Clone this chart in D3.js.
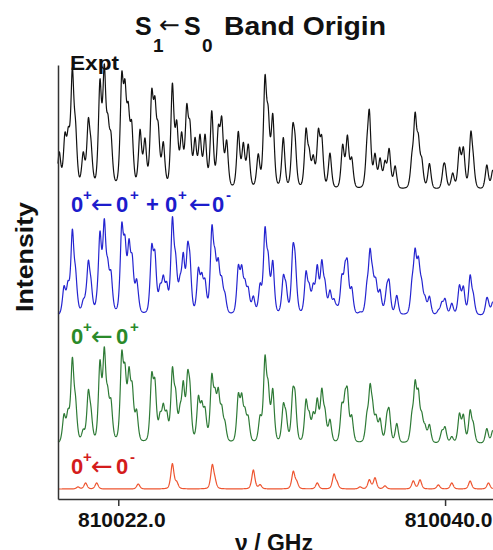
<!DOCTYPE html>
<html>
<head>
<meta charset="utf-8">
<script src="https://cdn.jsdelivr.net/npm/d3@7"></script>
<style>
body { margin: 0; background: #fff; }
text { font-family: "Liberation Sans", Arial, sans-serif; font-weight: bold; }
</style>
</head>
<body>
<svg width="493" height="550"></svg>
<script>
// Line positions (GHz) and heights (arb. units)

// Experiment
var exptNu = [810018.75, 810019.06, 810019.25, 810019.47, 810019.65, 810020.07, 810020.35, 810020.50,
    810020.99, 810021.23, 810021.43, 810021.60, 810022.19, 810022.37, 810022.55, 810022.74,
    810023.20, 810023.47, 810023.84, 810024.02, 810024.20, 810024.48, 810024.98, 810025.22,
    810025.49, 810025.77, 810025.95, 810026.23, 810026.50, 810026.78, 810027.15, 810027.51,
    810027.70, 810027.97, 810028.61, 810028.89, 810029.16, 810029.71, 810030.08, 810030.26,
    810030.51, 810031.09, 810031.61, 810031.74, 810032.34, 810032.52, 810032.74, 810033.02,
    810033.21, 810033.66, 810034.36, 810034.62, 810034.86, 810035.69, 810035.83, 810036.14,
    810036.42, 810036.69, 810036.92, 810037.25, 810038.17, 810038.35, 810038.53, 810038.72,
    810039.14, 810039.91, 810040.00, 810040.42, 810040.79, 810041.01, 810041.42, 810041.56,
    810042.30, 810042.63];
var exptInt = [35, 47, 44, 108, 47, 32, 60, 30,
    100, 110, 50, 42, 100, 80, 62, 55,
    55, 45, 85, 68, 50, 42, 100, 58,
    49, 72, 52, 45, 49, 50, 75, 52,
    62, 45, 55, 42, 42, 32, 102, 60,
    70, 50, 52, 35, 55, 28, 28, 52,
    45, 35, 42, 50, 28, 28, 70, 32,
    28, 24, 38, 22, 24, 66, 40, 24,
    25, 15, 16, 15, 38, 38, 52, 18,
    24, 19];

// 0+ <- 0+ simulation
var ppNu = [810019.01, 810019.23, 810019.47, 810019.65, 810020.07, 810020.35, 810020.50, 810020.99,
    810021.23, 810021.42, 810021.60, 810022.19, 810022.37, 810022.59, 810022.77, 810023.01,
    810023.84, 810024.02, 810024.30, 810024.48, 810024.67, 810024.98, 810025.16, 810025.40,
    810025.58, 810025.82, 810025.95, 810026.41, 810026.60, 810026.78, 810027.15, 810027.33,
    810027.51, 810027.70, 810027.88, 810028.61, 810028.80, 810028.98, 810029.16, 810029.81,
    810030.08, 810030.26, 810030.51, 810031.09, 810031.24, 810031.61, 810031.74,
    810032.34, 810032.52, 810032.74, 810032.96, 810033.21, 810033.39, 810033.66, 810034.31,
    810034.49, 810034.62, 810034.86, 810035.69, 810035.87, 810036.01, 810036.20, 810036.42,
    810036.79, 810036.92, 810037.34, 810038.17, 810038.35, 810038.53, 810038.72, 810038.90,
    810039.14, 810039.82, 810040.00, 810040.37, 810040.79, 810041.01, 810041.38, 810041.56,
    810042.30, 810042.63];
var ppInt = [30, 30, 90, 37, 12, 53, 25, 87,
    97, 42, 40, 92, 68, 70, 53, 33,
    70, 60, 25, 35, 28, 77, 45, 28,
    60, 62, 45, 47, 35, 32, 70, 42,
    50, 32, 18, 50, 45, 28, 25, 27,
    90, 52, 58, 38, 25, 47, 42,
    45, 25, 28, 45, 55, 28, 25, 38,
    37, 48, 28, 25, 55, 28, 25, 25,
    22, 32, 22, 25, 60, 48, 25, 15,
    20, 12, 17, 7, 32, 30, 35, 18,
    17, 15];

// 0+ <- 0- simulation
var pmNu = [810019.78, 810020.20, 810020.81, 810023.10, 810024.98, 810025.22, 810027.18, 810027.33,
    810029.44, 810029.81, 810031.64, 810031.83, 810032.96, 810033.88, 810034.05, 810035.32,
    810035.83, 810036.14, 810036.69, 810038.25, 810038.62, 810039.63, 810040.37, 810041.38,
    810042.39];
var pmInt = [2, 6, 6, 5, 25, 6, 23, 6,
    19, 4, 17, 6, 6, 14, 5, 2,
    9, 11, 3, 8, 9, 4, 6, 8,
    6];

var tickValues = [810022.0, 810040.0];

var svg = d3.select("svg"),
    width = +svg.attr("width"),
    height = +svg.attr("height");

var x = d3.scaleLinear()
    .domain([810018.68, 810042.64])
    .range([58, 493]);

// one y scale per trace, stacked
var yExpt = d3.scaleLinear().domain([0, 100]).range([190, 90]);
var ySum = d3.scaleLinear().domain([0, 100]).range([316, 229]);
var yPP = d3.scaleLinear().domain([0, 100]).range([444, 357]);
var yPM = d3.scaleLinear().domain([0, 100]).range([489, 389]);

// pseudo-voigt line profile on a fine grid
var sigma = 0.095, gamma = 0.085, mix = 0.45;
var grid = d3.range(810018.68, 810042.64, 0.01);

function profile(nu, amp) {
    return grid.map(function(f) {
        var s = 0;
        for (var i = 0; i < nu.length; i++) {
            var d = f - nu[i];
            if (Math.abs(d) > 2) continue;
            var g = Math.exp(-d * d / (2 * sigma * sigma));
            var l = 1 / (1 + (d / gamma) * (d / gamma));
            s += amp[i] * ((1 - mix) * g + mix * l);
        }
        return s;
    });
}

var expt = profile(exptNu, exptInt);
var pp = profile(ppNu, ppInt);
var pm = profile(pmNu, pmInt);
var sum = pp.map(function(v, i) { return v + pm[i]; });

function drawTrace(vals, y, color) {
    var line = d3.line()
        .x(function(d, i) { return x(grid[i]); })
        .y(function(d) { return y(d); });
    svg.append("path")
        .attr("d", line(vals))
        .style("fill", "none")
        .style("stroke", color)
        .style("stroke-width", 1.2)
        .style("stroke-linejoin", "round");
}

drawTrace(expt, yExpt, "#111111");
drawTrace(sum, ySum, "#2424d0");
drawTrace(pp, yPP, "#2e7a36");
drawTrace(pm, yPM, "#ee5530");

// axes
var xAxis = svg.append("g")
    .attr("transform", "translate(0,499)")
    .call(d3.axisBottom(x)
        .tickValues(tickValues)
        .tickFormat(d3.format(".1f"))
        .tickSize(7)
        .tickSizeOuter(0)
        .tickPadding(6));
xAxis.selectAll("text")
    .attr("dx", 3)
    .style("font-size", "21px")
    .style("font-family", "Liberation Sans, Arial, sans-serif")
    .style("font-weight", "bold")
    .style("fill", "#111");
xAxis.selectAll("line, path").style("stroke", "#333").style("stroke-width", 1.5);

var yAxis = d3.scaleLinear().domain([0, 1]).range([499, 65]);
svg.append("g")
    .attr("transform", "translate(58,0)")
    .call(d3.axisLeft(yAxis).tickValues([]).tickSizeOuter(0))
    .selectAll("path").style("stroke", "#333").style("stroke-width", 1.5);

// axis titles
svg.append("text")
    .attr("x", 235).attr("y", 551)
    .style("font-size", "23px").style("fill", "#111")
    .text("ν / GHz");

svg.append("text")
    .attr("transform", "translate(33,312) rotate(-90)")
    .attr("textLength", 110).attr("lengthAdjust", "spacingAndGlyphs")
    .style("font-size", "23px").style("fill", "#111")
    .text("Intensity");

// title
var title = svg.append("g").style("fill", "#111");
title.append("text").attr("x", 135).attr("y", 35).style("font-size", "25px").text("S");
title.append("text").attr("x", 153).attr("y", 52).style("font-size", "19px").text("1");
title.append("text").attr("x", 159).attr("y", 33)
    .attr("textLength", 21).attr("lengthAdjust", "spacingAndGlyphs")
    .style("font-family", "DejaVu Sans").style("font-weight", "normal").style("font-size", "24px")
    .text("←");
title.append("text").attr("x", 184).attr("y", 35).style("font-size", "25px").text("S");
title.append("text").attr("x", 202).attr("y", 52).style("font-size", "19px").text("0");
title.append("text").attr("x", 224).attr("y", 35)
    .attr("textLength", 162).attr("lengthAdjust", "spacingAndGlyphs")
    .style("font-size", "25px").text("Band Origin");

svg.append("text")
    .attr("x", 70).attr("y", 70)
    .attr("textLength", 49).attr("lengthAdjust", "spacingAndGlyphs")
    .style("font-size", "21px").style("fill", "#111")
    .text("Expt");

// transition labels, base = baseline of the big digits
function arrow(g, x0, base) {
    g.append("text").attr("x", x0).attr("y", base + 1)
        .attr("textLength", 22).attr("lengthAdjust", "spacingAndGlyphs")
        .style("font-family", "DejaVu Sans").style("font-weight", "normal").style("font-size", "26px")
        .text("←");
}
function digit(g, x0, base, t) {
    g.append("text").attr("x", x0).attr("y", base).style("font-size", "22px").text(t);
}
function sup(g, x0, base, t) {
    g.append("text").attr("x", x0).attr("y", base - 12).style("font-size", "15px").text(t);
}

var lblSum = svg.append("g").style("fill", "#1c1ccc");
digit(lblSum, 71, 212, "0"); sup(lblSum, 83, 212, "+"); arrow(lblSum, 91, 212);
digit(lblSum, 116, 212, "0"); sup(lblSum, 130, 212, "+");
digit(lblSum, 146, 212, "+");
digit(lblSum, 165, 212, "0"); sup(lblSum, 178, 212, "+"); arrow(lblSum, 189, 212);
digit(lblSum, 212, 212, "0"); sup(lblSum, 226, 212, "-");

var lblPP = svg.append("g").style("fill", "#2a8a2a");
digit(lblPP, 71, 344, "0"); sup(lblPP, 83, 344, "+"); arrow(lblPP, 91, 344);
digit(lblPP, 116, 344, "0"); sup(lblPP, 130, 344, "+");

var lblPM = svg.append("g").style("fill", "#d41c1c");
digit(lblPM, 71, 474, "0"); sup(lblPM, 83, 474, "+"); arrow(lblPM, 91, 474);
digit(lblPM, 116, 474, "0"); sup(lblPM, 130, 474, "-");
</script>
</body>
</html>
